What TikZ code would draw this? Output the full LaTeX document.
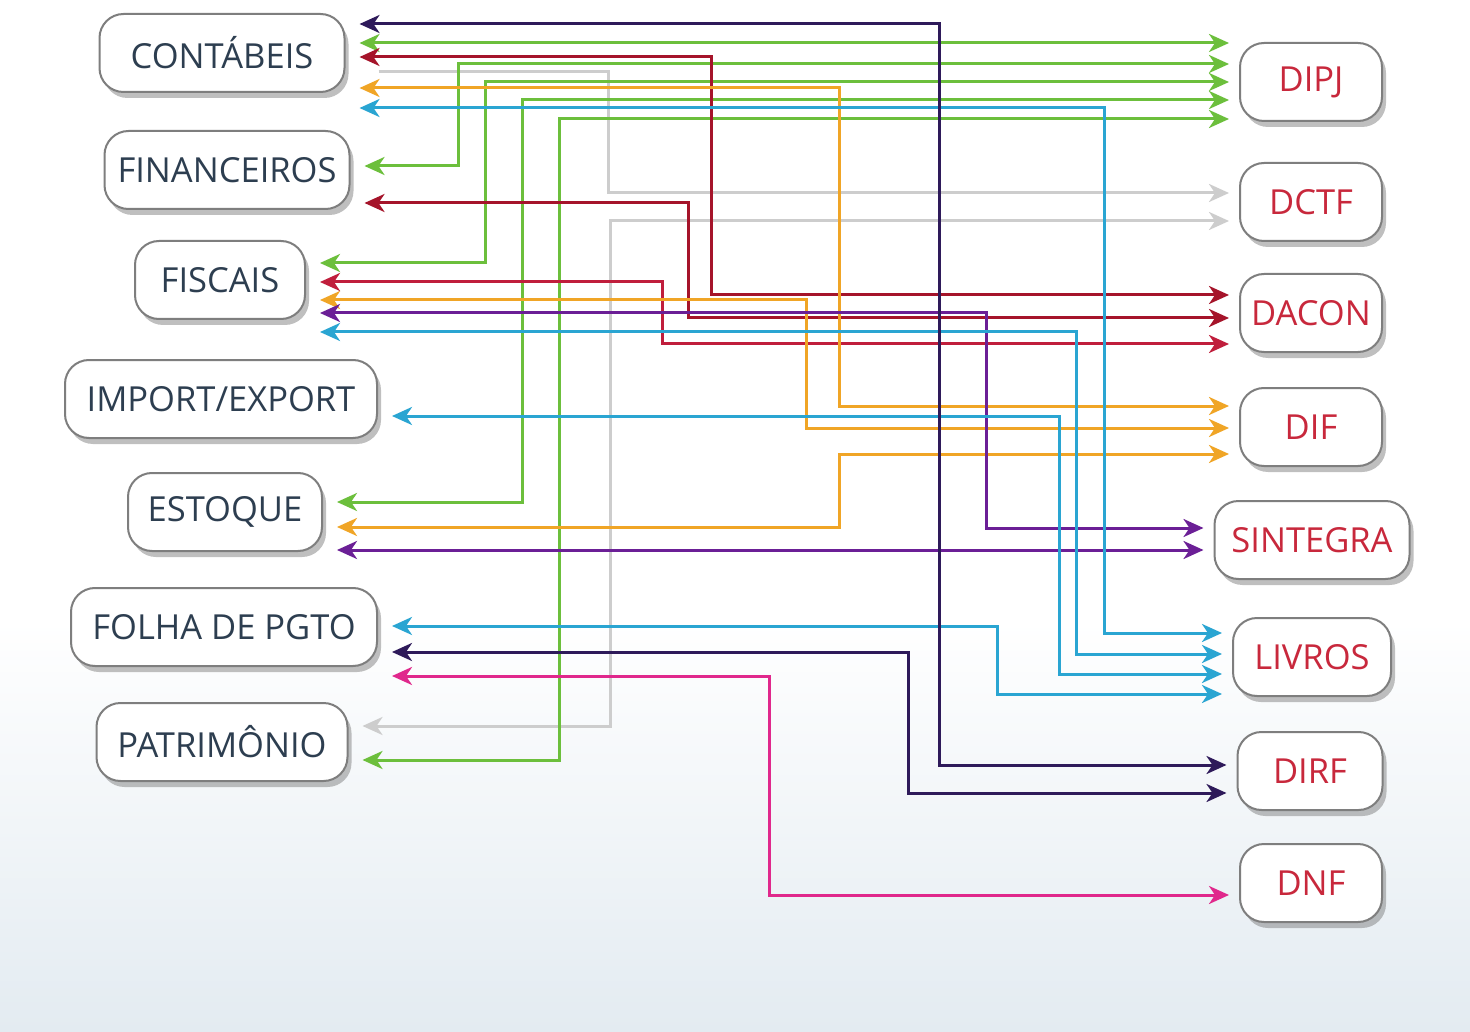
\documentclass[tikz,border=0pt]{standalone}
\usepackage{fontspec}
\setmainfont{Open Sans}
\usetikzlibrary{arrows.meta,shadows,calc}
\definecolor{cnavy}{HTML}{2E1A5A}
\definecolor{cgreen}{HTML}{6CBF3C}
\definecolor{cdred}{HTML}{A5142A}
\definecolor{cred}{HTML}{C01E3C}
\definecolor{cgray}{HTML}{CDCDCD}
\definecolor{corange}{HTML}{F0A526}
\definecolor{ccyan}{HTML}{2AA5D2}
\definecolor{cpurple}{HTML}{6B1F96}
\definecolor{cmagenta}{HTML}{E0288C}
\definecolor{ltext}{HTML}{2D3E50}
\definecolor{rtext}{HTML}{C8283C}
\definecolor{boxgray}{HTML}{7E7E7E}
\definecolor{bgb}{HTML}{E3EBF1}
\newcommand{\lnk}[6]{%
  \draw[lk,#1] ($(#2.east |- 0,#3)+(14,0)$) -| (#4,#6) -- ($(#5.west |- 0,#6)+(-10,0)$);}
\begin{document}
\begin{tikzpicture}[x=1pt,y=-1pt,
  box/.style={draw=boxgray, line width=2pt, rounded corners=24pt, fill=white,
    minimum height=78pt, inner sep=0pt, font=\fontsize{34.5}{40}\selectfont,
    drop shadow={shadow xshift=4pt, shadow yshift=-6pt, opacity=0.45, fill=black!55}},
  lbox/.style={box, text=ltext},
  rbox/.style={box, text=rtext},
  lk/.style={line width=3pt, <->, >={Stealth[length=20pt,width=18pt,inset=6pt]}}]
\useasboundingbox (0,0) rectangle (1470,1032);
\fill[white] (0,0) rectangle (1470,1032);
\shade[top color=white, bottom color=bgb] (0,620) rectangle (1470,1032);
% left nodes
\node[lbox, minimum width=245pt] (cont) at (222,53) {CONTÁBEIS};
\node[lbox, minimum width=245pt] (fin) at (227,170) {FINANCEIROS};
\node[lbox, minimum width=170pt] (fisc) at (220,280) {FISCAIS};
\node[lbox, minimum width=312pt] (imp) at (221,399) {IMPORT/EXPORT};
\node[lbox, minimum width=194pt] (est) at (225,512) {ESTOQUE};
\node[lbox, minimum width=306pt] (folha) at (224,627) {FOLHA DE PGTO};
\node[lbox, minimum width=251pt] (pat) at (222,742) {PATRIMÔNIO};
% right nodes
\node[rbox, minimum width=142pt] (dipj) at (1311,82) {DIPJ};
\node[rbox, minimum width=142pt] (dctf) at (1311,202) {DCTF};
\node[rbox, minimum width=142pt] (dacon) at (1311,313) {DACON};
\node[rbox, minimum width=142pt] (dif) at (1311,427) {DIF};
\node[rbox, minimum width=195pt] (sint) at (1312,540) {SINTEGRA};
\node[rbox, minimum width=158pt] (livros) at (1312,657) {LIVROS};
\node[rbox, minimum width=145pt] (dirf) at (1310,771) {DIRF};
\node[rbox, minimum width=142pt] (dnf) at (1311,883) {DNF};
% connectors
\draw[lk,cgray,->] ($(cont.east |- 0,72)+(33,0)$) -| (608,193) -- ($(dctf.west |- 0,193)+(-10,0)$);
\lnk{cgray}{pat}{726}{610}{dctf}{221}
\lnk{cgreen}{cont}{43}{700}{dipj}{43}
\lnk{cgreen}{fin}{166}{458}{dipj}{64}
\lnk{cgreen}{fisc}{263}{485}{dipj}{82}
\lnk{cgreen}{est}{502}{522}{dipj}{100}
\lnk{cgreen}{pat}{760}{559}{dipj}{119}
\lnk{cdred}{cont}{57}{711}{dacon}{295}
\lnk{cdred}{fin}{203}{688}{dacon}{318}
\lnk{cred}{fisc}{282}{662}{dacon}{344}
\lnk{corange}{cont}{88}{839}{dif}{406}
\lnk{corange}{fisc}{300}{806}{dif}{428}
\lnk{corange}{est}{527}{839}{dif}{454}
\lnk{cpurple}{fisc}{313}{986}{sint}{528}
\lnk{cpurple}{est}{550}{700}{sint}{550}
\lnk{ccyan}{cont}{108}{1104}{livros}{633}
\lnk{ccyan}{fisc}{332}{1076}{livros}{654}
\lnk{ccyan}{imp}{416}{1059}{livros}{674}
\lnk{ccyan}{folha}{626}{997}{livros}{694}
\lnk{cnavy}{cont}{24}{939}{dirf}{765}
\lnk{cnavy}{folha}{652}{908}{dirf}{793}
\lnk{cmagenta}{folha}{676}{769}{dnf}{895}
\end{tikzpicture}
\end{document}
